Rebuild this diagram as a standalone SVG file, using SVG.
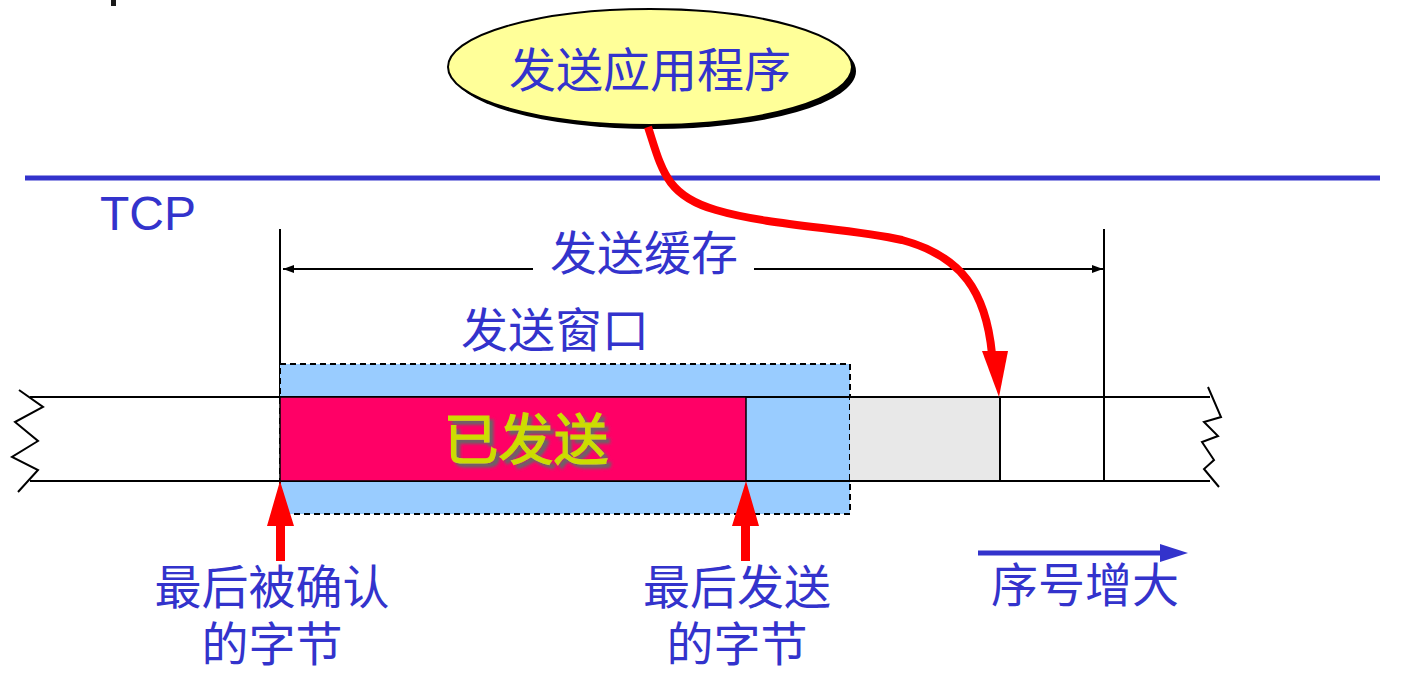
<svg xmlns="http://www.w3.org/2000/svg" width="1419" height="681" viewBox="0 0 1419 681">
<defs>
<style>
.lbl{font-family:"Liberation Sans","Noto Sans CJK SC","Noto Sans CJK JP",sans-serif;font-size:47px;fill:#3333CC;text-anchor:middle}
.ln{stroke:#000;stroke-width:2;fill:none}
.red{fill:#FF0000}
</style>
<marker id="ah" markerWidth="12" markerHeight="10" refX="11" refY="5" orient="auto" markerUnits="userSpaceOnUse">
<path d="M0,1 L11,5 L0,9 Z" fill="#000"/>
</marker>
<filter id="shadow" x="-10%" y="-20%" width="130%" height="150%">
<feDropShadow dx="4" dy="4" stdDeviation="1.5" flood-color="#666" flood-opacity="1"/>
</filter>
</defs>
<rect width="1419" height="681" fill="#fff"/>
<rect x="111" y="0" width="5" height="6" fill="#1a1a1a"/>

<g id="tcp-layer">
<line x1="25" y1="178" x2="1380" y2="178" stroke="#3333CC" stroke-width="5"/>
<text x="100" y="230" style="font-family:'Liberation Sans',Arial,sans-serif;font-size:48px;fill:#3333CC">TCP</text>
</g>

<g id="buffer-dim">
<line class="ln" x1="280" y1="229" x2="280" y2="397"/>
<line class="ln" x1="1104" y1="229" x2="1104" y2="481"/>
<line class="ln" x1="533" y1="269" x2="283" y2="269" marker-end="url(#ah)"/>
<line class="ln" x1="754" y1="269" x2="1103" y2="269" marker-end="url(#ah)"/>
<text class="lbl" x="644" y="270">发送缓存</text>
</g>

<g id="window">
<rect x="280" y="364" width="570" height="150" fill="#99CCFF" stroke="#000" stroke-width="2" stroke-dasharray="6,4"/>
<text class="lbl" x="555" y="347">发送窗口</text>
</g>

<g id="byte-stream">
<rect x="850" y="397" width="150" height="84" fill="#E8E8E8"/>
<line class="ln" x1="30" y1="397" x2="1210" y2="397"/>
<line class="ln" x1="30" y1="481" x2="1210" y2="481"/>
<line class="ln" x1="1000" y1="397" x2="1000" y2="481"/>
<polyline class="ln" stroke-width="3" points="19,390 43,407 15,422 38,441 12,457 38,470 18,492"/>
<polyline class="ln" stroke-width="3" points="1208,387 1221,417 1204,422 1218,436 1202,442 1214,460 1204,469 1219,487"/>
</g>

<g id="sent">
<rect x="280" y="397" width="466" height="84" fill="#FF0066" stroke="#000" stroke-width="1.5"/>
<text x="526" y="459" filter="url(#shadow)" style="font-family:'Liberation Sans','Noto Sans CJK SC',sans-serif;font-size:55px;fill:#CCDD00;stroke:#CCDD00;stroke-width:1.2;text-anchor:middle">已发送</text>
</g>

<g id="app">
<ellipse cx="654" cy="71" rx="202" ry="58" fill="#000"/>
<ellipse cx="650" cy="67" rx="202" ry="58" fill="#FFFF99" stroke="#000" stroke-width="2"/>
<text class="lbl" x="650" y="87">发送应用程序</text>
</g>

<g id="connectors">
<path d="M648,127 C662,170 666,196 716,210 C770,226 850,228 902,240 C962,256 986,292 992,354" fill="none" stroke="#FF0000" stroke-width="8"/>
<polygon class="red" points="982,351 1008,351 999,397"/>
<polygon class="red" points="280,481 294,526 285,526 285,561 276,561 276,526 267,526"/>
<polygon class="red" points="746,481 759,526 750,526 750,561 741,561 741,526 732,526"/>
<line x1="978" y1="553" x2="1162" y2="553" stroke="#3333CC" stroke-width="5"/>
<polygon points="1160,544 1188,553 1160,562" fill="#3333CC"/>
</g>

<g id="labels">
<text class="lbl" x="272" y="604">最后被确认</text>
<text class="lbl" x="272" y="661">的字节</text>
<text class="lbl" x="737" y="604">最后发送</text>
<text class="lbl" x="737" y="661">的字节</text>
<text class="lbl" x="1085" y="602">序号增大</text>
</g>
</svg>
